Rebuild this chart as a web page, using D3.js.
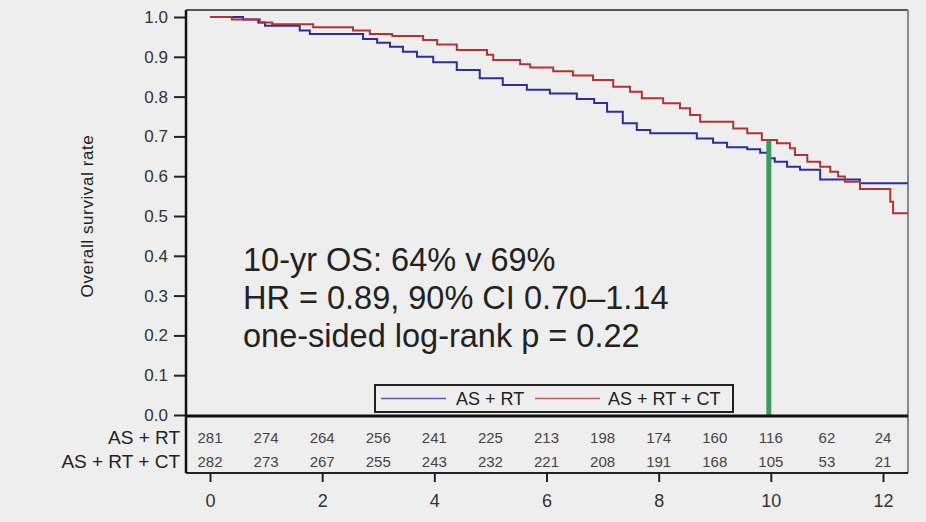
<!DOCTYPE html>
<html>
<head>
<meta charset="utf-8">
<script src="https://cdn.jsdelivr.net/npm/d3@7"></script>
<style>
    html, body { margin: 0; padding: 0; background: #eeeeee; }
    svg { display: block; font-family: "Liberation Sans", Arial, sans-serif; }
</style>
</head>
<body>
<svg id="chart"></svg>
<script>
const WIDTH = 926;
const HEIGHT = 522;

// step changes of the KM curves: [years, survival]
const asRt = [
    [0, 1.0], [0.59, 0.994], [0.86, 0.986], [0.98, 0.978], [1.60, 0.966], [1.78, 0.957],
    [2.73, 0.945], [2.98, 0.935], [3.21, 0.925], [3.44, 0.913], [3.69, 0.900], [3.98, 0.886],
    [4.40, 0.867], [4.81, 0.846], [5.22, 0.829], [5.65, 0.817], [6.06, 0.808], [6.54, 0.794],
    [6.85, 0.784], [7.08, 0.762], [7.36, 0.733], [7.61, 0.716], [7.85, 0.708], [8.68, 0.695],
    [8.97, 0.684], [9.22, 0.673], [9.58, 0.668], [9.81, 0.659], [9.95, 0.645], [10.07, 0.636],
    [10.29, 0.624], [10.52, 0.616], [10.88, 0.592], [11.59, 0.582]
];
const asRtCt = [
    [0, 1.0], [0.39, 0.994], [0.89, 0.986], [1.11, 0.982], [1.84, 0.974], [2.55, 0.966],
    [2.85, 0.957], [3.25, 0.952], [3.80, 0.942], [4.05, 0.931], [4.40, 0.917], [4.94, 0.905],
    [5.05, 0.892], [5.53, 0.881], [5.71, 0.873], [6.12, 0.864], [6.47, 0.853], [6.83, 0.842],
    [7.19, 0.825], [7.49, 0.812], [7.70, 0.796], [8.08, 0.783], [8.38, 0.771], [8.56, 0.754],
    [8.74, 0.737], [9.33, 0.720], [9.58, 0.708], [9.84, 0.691], [10.11, 0.683], [10.34, 0.670],
    [10.43, 0.653], [10.65, 0.636], [10.88, 0.624], [11.06, 0.611], [11.20, 0.599], [11.32, 0.586],
    [11.59, 0.568], [12.13, 0.536], [12.18, 0.507]
];
const lastFollowUp = 12.44;
const markerYear = 10;

const groupNames = ['AS + RT', 'AS + RT + CT'];
const xTicks = [0, 2, 4, 6, 8, 10, 12];
const yTicks = [0, 0.1, 0.2, 0.3, 0.4, 0.5, 0.6, 0.7, 0.8, 0.9, 1.0];
const riskYears = [0, 1, 2, 3, 4, 5, 6, 7, 8, 9, 10, 11, 12];
const riskAsRt = [281, 274, 264, 256, 241, 225, 213, 198, 174, 160, 116, 62, 24];
const riskAsRtCt = [282, 273, 267, 255, 243, 232, 221, 208, 191, 168, 105, 53, 21];
const statLines = ['10-yr OS: 64% v 69%', 'HR = 0.89, 90% CI 0.70\u20131.14', 'one-sided log-rank p = 0.22'];

const BLUE = '#2d2d9c';
const RED = '#b03434';
const GREEN = '#3f9a5e';

const frame = { left: 186, right: 908, top: 10, bottom: 415, tableBottom: 473 };

let svg = d3.select('#chart')
    .attr('width', WIDTH)
    .attr('height', HEIGHT);

let x = d3.scaleLinear().domain([0, 12]).range([210, 883]);
let y = d3.scaleLinear().domain([0, 1]).range([415, 17]);

// frame lines
svg.append('line')
    .attr('x1', frame.left).attr('x2', frame.right)
    .attr('y1', frame.top).attr('y2', frame.top)
    .attr('stroke', '#222').attr('stroke-width', 1.5);
svg.append('line')
    .attr('x1', frame.right).attr('x2', frame.right)
    .attr('y1', frame.top).attr('y2', frame.tableBottom)
    .attr('stroke', '#888').attr('stroke-width', 2);
svg.append('line')
    .attr('x1', frame.left).attr('x2', frame.right)
    .attr('y1', frame.tableBottom).attr('y2', frame.tableBottom)
    .attr('stroke', '#222').attr('stroke-width', 2);

// y axis
let yAxis = svg.append('g')
    .attr('transform', `translate(${frame.left},0)`)
    .call(d3.axisLeft(y).tickValues(yTicks).tickFormat(d3.format('.1f')).tickSize(12).tickPadding(6));
yAxis.select('.domain').remove();
yAxis.selectAll('.tick line').attr('stroke', '#222').attr('stroke-width', 2);
yAxis.selectAll('.tick text')
    .attr('font-size', 17).attr('fill', '#333')
    .attr('font-family', '"Liberation Sans", Arial, sans-serif');
svg.append('line')
    .attr('x1', frame.left).attr('x2', frame.left)
    .attr('y1', frame.top).attr('y2', frame.tableBottom)
    .attr('stroke', '#111').attr('stroke-width', 2.5);

svg.append('text')
    .attr('transform', `translate(93,${(17 + 415) / 2}) rotate(-90)`)
    .attr('text-anchor', 'middle')
    .attr('font-size', 17)
    .attr('letter-spacing', 0.6)
    .attr('fill', '#222')
    .text('Overall survival rate');

// x axis below the risk table
let xAxis = svg.append('g')
    .attr('transform', `translate(0,${frame.tableBottom})`)
    .call(d3.axisBottom(x).tickValues(xTicks).tickSize(9).tickPadding(12));
xAxis.select('.domain').remove();
xAxis.selectAll('.tick line').attr('stroke', '#222').attr('stroke-width', 2);
xAxis.selectAll('.tick text')
    .attr('font-size', 18).attr('fill', '#333')
    .attr('font-family', '"Liberation Sans", Arial, sans-serif');

// survival curves
let line = d3.line()
    .x(d => x(d[0]))
    .y(d => y(d[1]))
    .curve(d3.curveStepAfter);

for (const [data, color] of [[asRt, BLUE], [asRtCt, RED]]) {
    const pts = data.concat([[lastFollowUp, data[data.length - 1][1]]]);
    svg.append('path')
        .datum(pts)
        .attr('fill', 'none')
        .attr('stroke', color)
        .attr('stroke-width', 2)
        .attr('d', line);
}

// 10-year marker
svg.append('line')
    .attr('x1', x(markerYear) - 2).attr('x2', x(markerYear) - 2)
    .attr('y1', y(0.69)).attr('y2', y(0))
    .attr('stroke', GREEN).attr('stroke-width', 5);

// bottom axis line of the plot
svg.append('line')
    .attr('x1', frame.left).attr('x2', frame.right)
    .attr('y1', frame.bottom + 1).attr('y2', frame.bottom + 1)
    .attr('stroke', '#111').attr('stroke-width', 3);

// stats text
svg.append('g')
    .selectAll('text')
    .data(statLines)
    .enter()
    .append('text')
        .attr('x', 243)
        .attr('y', (d, i) => 271 + i * 38)
        .attr('font-size', 32.5)
        .attr('fill', '#222')
        .text(d => d);

// legend
let legend = svg.append('g');
legend.append('rect')
    .attr('x', 375).attr('y', 385).attr('width', 358).attr('height', 27)
    .attr('fill', 'none').attr('stroke', '#222').attr('stroke-width', 2);
const legendItems = [
    { name: groupNames[0], color: BLUE, x0: 381, x1: 446, tx: 456 },
    { name: groupNames[1], color: RED, x0: 535, x1: 600, tx: 608 }
];
for (const item of legendItems) {
    legend.append('line')
        .attr('x1', item.x0).attr('x2', item.x1)
        .attr('y1', 398.5).attr('y2', 398.5)
        .attr('stroke', item.color).attr('stroke-width', 1.5).attr('opacity', 0.75);
    legend.append('text')
        .attr('x', item.tx).attr('y', 405)
        .attr('font-size', 18).attr('fill', '#222')
        .text(item.name);
}

// numbers at risk
const riskRows = [riskAsRt, riskAsRtCt];
riskRows.forEach((row, r) => {
    const cy = 438 + r * 24;
    svg.append('text')
        .attr('x', 180).attr('y', cy + 6)
        .attr('text-anchor', 'end')
        .attr('font-size', 19).attr('fill', '#222')
        .text(groupNames[r]);
    svg.append('g')
        .selectAll('text')
        .data(row)
        .enter()
        .append('text')
            .attr('x', (d, i) => x(riskYears[i]))
            .attr('y', cy + 5)
            .attr('text-anchor', 'middle')
            .attr('font-size', 15)
            .attr('fill', '#444')
            .text(d => d);
});
</script>
</body>
</html>
